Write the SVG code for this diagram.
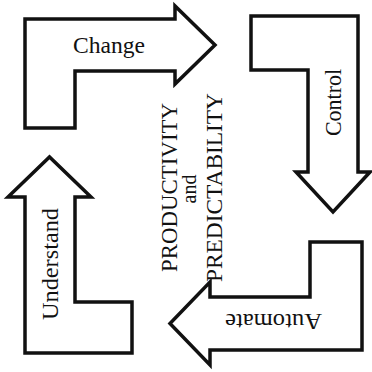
<svg xmlns="http://www.w3.org/2000/svg" width="372" height="372" viewBox="0 0 372 372">
  <style>
    .arrow { fill: #ffffff; stroke: #111111; stroke-width: 3.5; stroke-linejoin: miter; stroke-miterlimit: 10; }
    .label { font-family: "Liberation Serif", "Times New Roman", serif; font-size: 23px; fill: #111111; text-anchor: middle; }
    .title { font-family: "Liberation Serif", "Times New Roman", serif; font-size: 23px; fill: #111111; text-anchor: middle; }
  </style>
  <rect width="372" height="372" fill="#ffffff"/>

  <!-- top: bent arrow pointing right -->
  <g id="change">
    <path class="arrow" d="M25,19 H175 V6 L215,45 L175,84 V71 H75 V128 H25 Z"/>
    <text class="label" x="109" y="52.5" textLength="72" lengthAdjust="spacingAndGlyphs">Change</text>
  </g>

  <!-- right: bent arrow pointing down -->
  <g id="control">
    <path class="arrow" d="M251,16 H358 V172 H370 L333,212 L296,172 H308 V70 H251 Z"/>
    <text class="label" transform="translate(340.5,102.5) rotate(-90)" textLength="67" lengthAdjust="spacingAndGlyphs">Control</text>
  </g>

  <!-- bottom: bent arrow pointing left -->
  <g id="automate">
    <path class="arrow" d="M362,242 V350 H210 V365 L170,323.5 L210,282 V297 H310 V242 Z"/>
    <text class="label" transform="translate(273.5,313.5) rotate(180)" textLength="97" lengthAdjust="spacingAndGlyphs">Automate</text>
  </g>

  <!-- left: bent arrow pointing up -->
  <g id="understand">
    <path class="arrow" d="M25,353 V197 H8 L49.5,157 L91,197 H75 V302 H132 V353 Z"/>
    <text class="label" transform="translate(57.5,264) rotate(-90)" textLength="112" lengthAdjust="spacingAndGlyphs">Understand</text>
  </g>

  <!-- centre caption -->
  <g id="goal">
    <text class="title" transform="translate(177,187.5) rotate(-90)" textLength="169" lengthAdjust="spacingAndGlyphs">PRODUCTIVITY</text>
    <text class="title" transform="translate(195.5,189) rotate(-90)" style="font-size:20px">and</text>
    <text class="title" transform="translate(222,187.5) rotate(-90)" textLength="189" lengthAdjust="spacingAndGlyphs">PREDICTABILITY</text>
  </g>
</svg>
